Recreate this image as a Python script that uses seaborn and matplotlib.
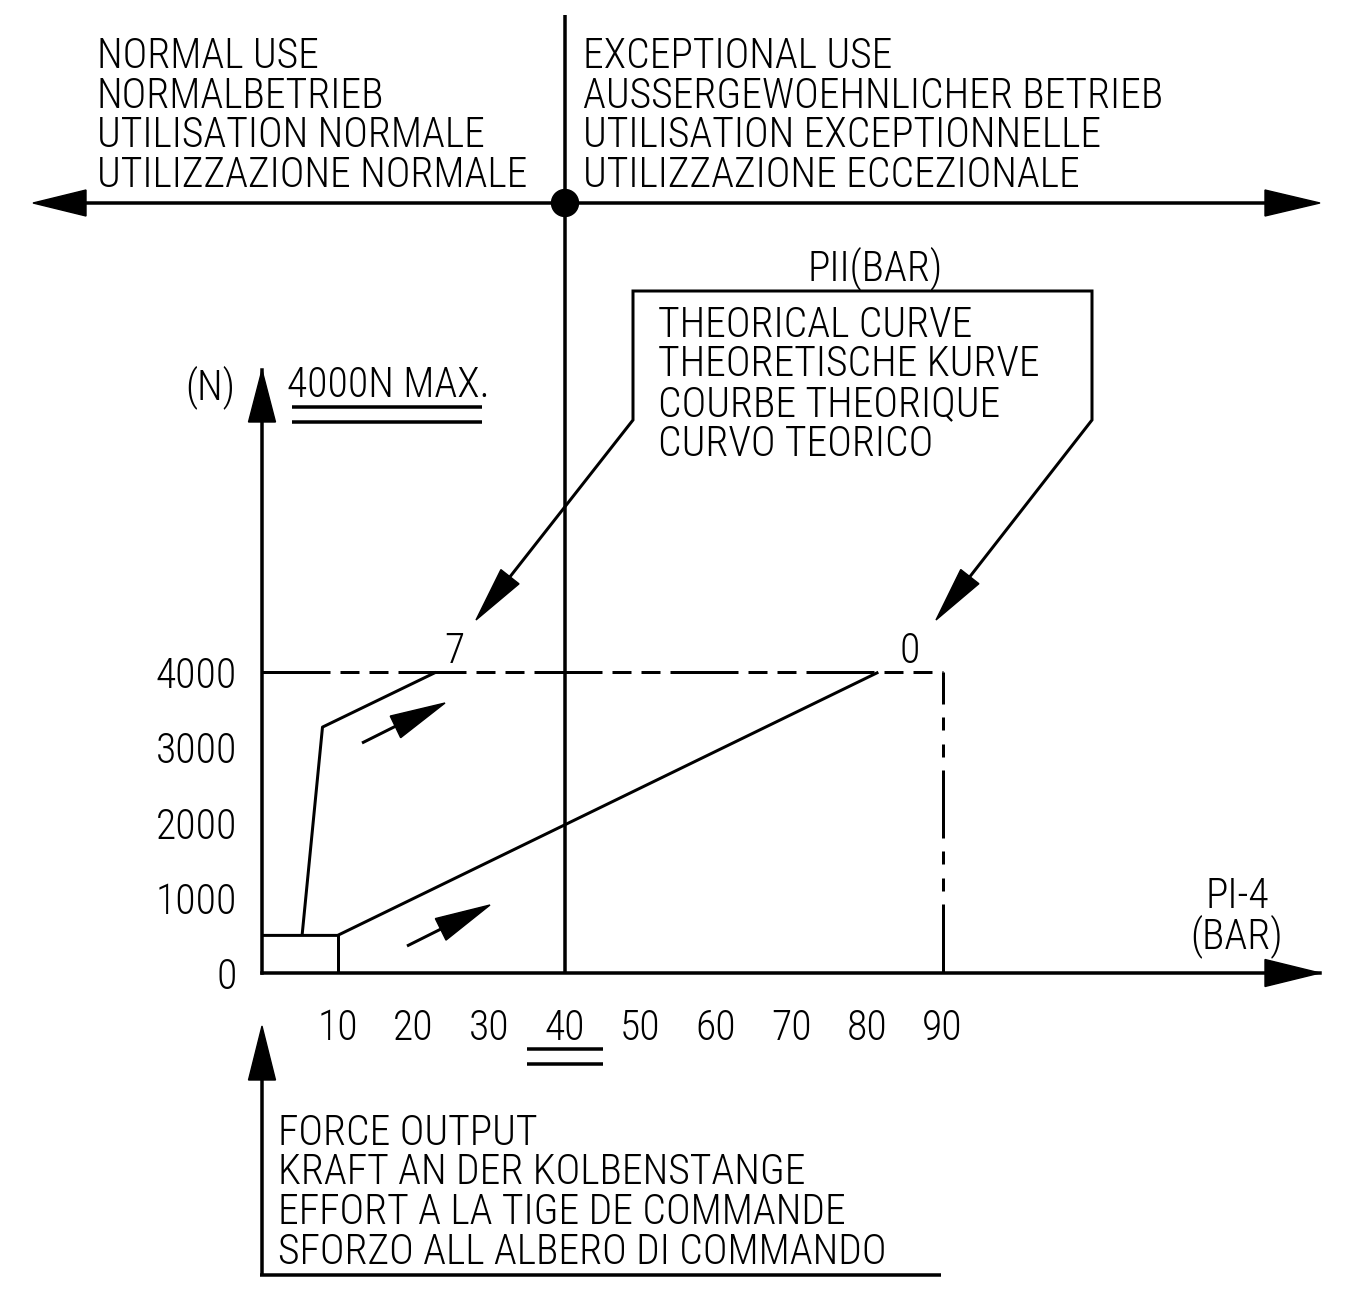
import numpy as np
import pandas as pd
import matplotlib
matplotlib.use("Agg")
import matplotlib.pyplot as plt
import seaborn as sns
from matplotlib import font_manager as fm
from matplotlib.patches import Polygon, Circle

# ---------------- data ----------------
pressure_curve_7 = [5.3, 8.0, 23.0]          # PII = 7 bar curve (PI-4, bar)
force_curve_7 = [500, 3270, 4000]             # N
pressure_curve_0 = [0, 10, 81.5]              # PII = 0 bar curve
force_curve_0 = [500, 500, 4000]
box_pressure = [10, 10]
box_force = [0, 500]
max_force = 4000
max_pressure = 90
limit_pressure = 40
x_ticks = [10, 20, 30, 40, 50, 60, 70, 80, 90, 100, 110, 120]
x_tick_labels = ["10", "20", "30", "40", "50", "60", "70", "80", "90", "", "", ""]
y_ticks = [0, 1000, 2000, 3000, 4000, 5000, 6000]
y_tick_labels = ["0", "1000", "2000", "3000", "4000", "", ""]
curve_labels = ["7", "0"]
normal_use = ["NORMAL USE", "NORMALBETRIEB", "UTILISATION NORMALE", "UTILIZZAZIONE NORMALE"]
exceptional_use = ["EXCEPTIONAL USE", "AUSSERGEWOEHNLICHER BETRIEB",
                   "UTILISATION EXCEPTIONNELLE", "UTILIZZAZIONE ECCEZIONALE"]
theory_title = "PII(BAR)"
theory_lines = ["THEORICAL CURVE", "THEORETISCHE KURVE", "COURBE THEORIQUE", "CURVO TEORICO"]
force_lines = ["FORCE OUTPUT", "KRAFT AN DER KOLBENSTANGE",
               "EFFORT A LA TIGE DE COMMANDE", "SFORZO ALL ALBERO DI COMMANDO"]
x_unit = ["PI-4", "(BAR)"]
y_unit = "(N)"
max_note = "4000N MAX."

# ---------------- style ----------------
sns.set_style("white")
names = {f.name for f in fm.fontManager.ttflist}
FONT = "DejaVu Sans"
for cand in ["Liberation Sans Narrow", "Roboto Condensed", "Roboto", "Lato"]:
    if cand in names:
        FONT = cand
        break
plt.rcParams["font.family"] = [FONT, "DejaVu Sans"]
plt.rcParams["font.weight"] = "light"
plt.rcParams["text.color"] = "black"
plt.rcParams["lines.scale_dashes"] = False
plt.rcParams["lines.solid_capstyle"] = "butt"

W, H, DPI = 1370, 1307, 100
PT = 72.0 / DPI          # points per pixel
LW_AX = 3.5 * PT
LW = 3.0 * PT

X0, SX = 262.0, 7.5625   # pixel of x=0, px per bar
Y0, SY = 973.0, 0.0752   # pixel of y=0, px per N
XTIP, YTIP = 1320.0, 370.0

fig = plt.figure(figsize=(W / DPI, H / DPI), dpi=DPI)
fig.patch.set_facecolor("white")

# fit the lettering size to the reference line length
renderer = fig.canvas.get_renderer()
probe = fig.text(0, 0, normal_use[3], fontsize=30)
w_probe = probe.get_window_extent(renderer).width
probe.remove()
FS = min(30 * 440.0 / w_probe, 30)

ax = fig.add_axes([X0 / W, (H - Y0) / H, (XTIP - X0) / W, (Y0 - YTIP) / H])
ax.set_xlim(0, (XTIP - X0) / SX)
ax.set_ylim(0, (Y0 - YTIP) / SY)
ax.patch.set_alpha(0)
for s in ["top", "right"]:
    ax.spines[s].set_visible(False)
for s in ["left", "bottom"]:
    ax.spines[s].set_linewidth(LW_AX)
    ax.spines[s].set_color("black")

# curves
sns.lineplot(x=pressure_curve_7, y=force_curve_7, ax=ax, color="black", lw=LW,
             sort=False, estimator=None)
sns.lineplot(x=pressure_curve_0, y=force_curve_0, ax=ax, color="black", lw=LW,
             sort=False, estimator=None)
sns.lineplot(x=box_pressure, y=box_force, ax=ax, color="black", lw=LW,
             sort=False, estimator=None)

# phantom lines at max force / max pressure
k = PT
ax.plot([0, max_pressure], [max_force, max_force], color="black", lw=LW,
        linestyle=(0, (68 * k, 10 * k, 19 * k, 10 * k, 19 * k, 10 * k)))
ax.plot([max_pressure, max_pressure], [max_force, 0], color="black", lw=LW,
        linestyle=(36 * k, (68 * k, 13 * k, 13 * k, 14 * k, 13 * k, 13 * k)))

# limit line (normal / exceptional)
ax.plot([limit_pressure, limit_pressure], [0, (Y0 - 15) / SY], color="black",
        lw=LW_AX, clip_on=False, solid_capstyle="butt")

# ticks
ax.set_xticks(x_ticks)
ax.set_xticklabels(x_tick_labels)
ax.set_yticks(y_ticks)
ax.set_yticklabels(y_tick_labels)
ax.tick_params(axis="x", direction="out", length=22 * PT, width=LW_AX, pad=9,
               labelsize=FS, colors="black")
ax.tick_params(axis="y", direction="out", length=21 * PT, width=LW_AX, pad=3,
               labelsize=FS, colors="black")
ax.yaxis.get_major_ticks()[0].tick1line.set_visible(False)

# curve value labels
ax.text(pressure_curve_7[-1] + 2.5, max_force + 120, curve_labels[0], fontsize=FS,
        ha="center", va="baseline")
ax.text(pressure_curve_0[-1] + 4.2, max_force + 120, curve_labels[1], fontsize=FS,
        ha="center", va="baseline")

# ---------------- overlay (pixel coordinates) ----------------
ov = fig.add_axes([0, 0, 1, 1])
ov.set_xlim(0, W)
ov.set_ylim(H, 0)
ov.axis("off")
ov.patch.set_alpha(0)


def head(tip, tail, L, Wd):
    tip = np.array(tip, float)
    tail = np.array(tail, float)
    u = (tail - tip) / np.linalg.norm(tail - tip)
    p = np.array([-u[1], u[0]])
    b = tip + u * L
    ov.add_patch(Polygon([tip, b + p * Wd / 2, b - p * Wd / 2], closed=True,
                         fc="black", ec="black", lw=1))


def line(xs, ys, lw=LW):
    ov.plot(xs, ys, color="black", lw=lw, solid_capstyle="butt", solid_joinstyle="miter")


# top normal/exceptional arrow
line([40, 1310], [203, 203], LW_AX)
head((33, 203), (100, 203), 53, 26)
head((1320, 203), (1200, 203), 55, 26)
ov.add_patch(Circle((565, 203), 13.5, fc="black", ec="black"))

# axis arrowheads
head((XTIP, Y0), (1200, Y0), 55, 27)
head((X0, YTIP), (X0, 500), 52, 27)

# bottom force output bracket
line([X0, X0], [1075, 1276], LW_AX)
line([X0 - 1.5, 941], [1275, 1275], LW_AX)
head((X0, 1026), (X0, 1100), 54, 27)

# double underlines
line([292, 482], [407, 407], LW_AX)
line([292, 482], [422, 422], LW_AX)
line([527, 603], [1049, 1049], LW_AX)
line([527, 603], [1064, 1064], LW_AX)

# callout box
line([478 + 2, 633, 633, 1092, 1092, 938 + 2], [618 - 3, 420, 291, 291, 420, 618 - 3], LW)
head((476, 620), (633, 420), 55, 23)
head((936, 620), (1092, 420), 55, 23)

# direction arrows
line([362, 400], [743, 724], LW)
head((445, 703), (362, 743), 55, 24)
line([407, 445], [946, 927], LW)
head((490, 905), (407, 946), 55, 24)

# texts
for i, t in enumerate(normal_use):
    ov.text(97, 68 + 39.7 * i, t, fontsize=FS, ha="left", va="baseline")
for i, t in enumerate(exceptional_use):
    ov.text(583, 68 + 39.7 * i, t, fontsize=FS, ha="left", va="baseline")
ov.text(875, 280, theory_title, fontsize=FS, ha="center", va="baseline")
for i, t in enumerate(theory_lines):
    ov.text(658, 337 + 39.5 * i, t, fontsize=FS, ha="left", va="baseline")
for i, t in enumerate(force_lines):
    ov.text(278, 1145 + 39.5 * i, t, fontsize=FS, ha="left", va="baseline")
ov.text(1237, 908, x_unit[0], fontsize=FS, ha="center", va="baseline")
ov.text(1237, 948, x_unit[1], fontsize=FS, ha="center", va="baseline")
ov.text(210, 399, y_unit, fontsize=FS, ha="center", va="baseline")
ov.text(287, 397, max_note, fontsize=FS, ha="left", va="baseline")

fig.savefig("out.png", dpi=DPI, facecolor="white")
